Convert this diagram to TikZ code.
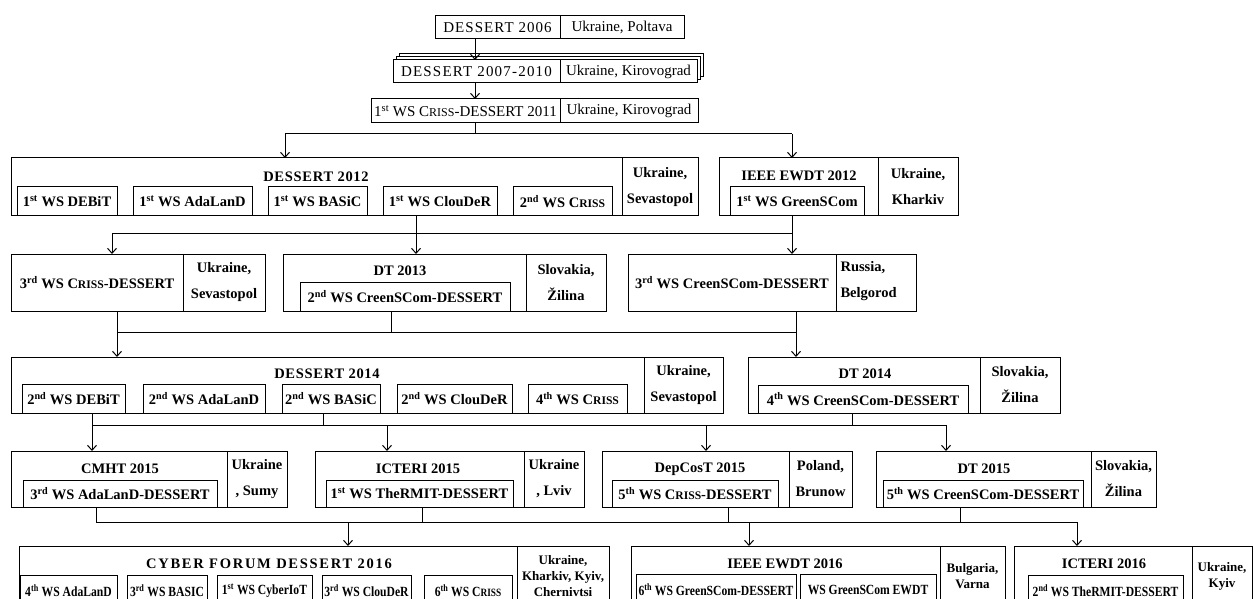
\documentclass[tikz,border=0pt]{standalone}
\usepackage{fontspec}
\setmainfont{Liberation Serif}
\newfontfamily\condf[FakeStretch=0.83]{Liberation Serif}
\usetikzlibrary{arrows.meta}
\newcommand\crs{C\scalebox{0.8}{RISS}}
\newcommand\lsp[2]{{\addfontfeatures{LetterSpace=#1}#2}}
\newcommand\sps[1]{\textsuperscript{#1}}
\newcommand{\rbox}[7][]{\node[box,minimum width={(#5-#3)*1pt},minimum height={(#6-#4)*1pt},#1] (#2) at (#3,#4) {#7};}
\tikzset{
  box/.style={draw, line width=1pt, inner sep=0pt, outer sep=0pt, anchor=north west, fill=white, font=\fontsize{15}{18}\selectfont},
  bfb/.style={font=\fontsize{14.5}{17}\selectfont\bfseries},
  loc/.style={font=\fontsize{14.5}{26}\selectfont\bfseries, align=center},
  locs/.style={font=\fontsize{13}{16}\selectfont\bfseries, align=center},
  cnd/.style={font=\condf\fontsize{14}{17}\selectfont\bfseries},
  conn/.style={line width=1pt},
  arr/.style={line width=1pt, -{Straight Barb[length=5pt,width=9pt]}},
}
\begin{document}
\begin{tikzpicture}[x=1pt,y=-1pt]
\clip (0,0) rectangle (1254,599);
\fill[white] (0,0) rectangle (1254,599);
% ---- row 0
\rbox{a06}{435}{16}{560}{39}{\lsp{7}{DESSERT 2006}}
\rbox{a06l}{560}{16}{684}{39}{Ukraine, Poltava}
\rbox{s2}{399}{54}{703}{77}{}
\rbox{s1}{396}{57}{700}{80}{}
\rbox{a07}{393}{60}{560}{83}{\lsp{8}{DESSERT 2007-2010}}
\rbox{a07l}{560}{60}{697}{83}{Ukraine, Kirovograd}
\rbox{a11}{371}{99}{560}{123}{1\sps{st} WS \crs-DESSERT 2011}
\rbox{a11l}{560}{99}{698}{123}{Ukraine, Kirovograd}
% ---- row 2
\rbox{d12}{11}{158}{622}{216}{}
\rbox[loc]{d12l}{622}{158}{698}{216}{Ukraine,\\Sevastopol}
\node[bfb] (d12t) at (316,177) {\lsp{5}{DESSERT 2012}};
\rbox[bfb]{d12a}{17}{187}{117}{216}{1\sps{st} WS DEBiT}
\rbox[bfb]{d12b}{133}{187}{252}{216}{1\sps{st} WS AdaLanD}
\rbox[bfb]{d12c}{268}{187}{367}{216}{1\sps{st} WS BASiC}
\rbox[bfb]{d12d}{383}{187}{497}{216}{1\sps{st} WS ClouDeR}
\rbox[bfb]{d12e}{513}{187}{612}{216}{2\sps{nd} WS \crs}
\rbox{e12}{719}{158}{878}{216}{}
\rbox[loc]{e12l}{878}{158}{958}{216}{Ukraine,\\Kharkiv}
\node[bfb] (e12t) at (799,176) {IEEE EWDT 2012};
\rbox[bfb]{e12a}{730}{187}{864}{216}{1\sps{st} WS GreenSCom}
% ---- row 3
\rbox[bfb]{c3}{11}{254}{183}{311}{3\sps{rd} WS \crs-DESSERT}
\rbox[loc]{c3l}{183}{254}{265}{311}{Ukraine,\\Sevastopol}
\rbox{dt13}{283}{254}{526}{311}{}
\rbox[loc]{dt13l}{526}{254}{606}{311}{Slovakia,\\Žilina}
\node[bfb] (dt13t) at (400,271) {DT 2013};
\rbox[bfb]{dt13a}{300}{282}{510}{311}{2\sps{nd} WS CreenSCom-DESSERT}
\rbox[bfb]{c3g}{628}{254}{836}{311}{3\sps{rd} WS CreenSCom-DESSERT}
\rbox{c3gl}{836}{254}{916}{311}{}
\node[loc, align=left, anchor=west] (c3gt) at (837,281) {Russia,\\Belgorod};
% ---- row 4
\rbox{d14}{11}{357}{644}{413}{}
\rbox[loc]{d14l}{644}{357}{723}{413}{Ukraine,\\Sevastopol}
\node[bfb] (d14t) at (327,374) {\lsp{5}{DESSERT 2014}};
\rbox[bfb]{d14a}{22}{384}{125}{413}{2\sps{nd} WS DEBiT}
\rbox[bfb]{d14b}{143}{384}{265}{413}{2\sps{nd} WS AdaLanD}
\rbox[bfb]{d14c}{282}{384}{380}{413}{2\sps{nd} WS BASiC}
\rbox[bfb]{d14d}{397}{384}{512}{413}{2\sps{nd} WS ClouDeR}
\rbox[bfb]{d14e}{528}{384}{627}{413}{4\sps{th} WS \crs}
\rbox{dt14}{748}{357}{980}{413}{}
\rbox[loc]{dt14l}{980}{357}{1060}{413}{Slovakia,\\Žilina}
\node[bfb] (dt14t) at (865,374) {DT 2014};
\rbox[bfb]{dt14a}{758}{385}{968}{413}{4\sps{th} WS CreenSCom-DESSERT}
% ---- row 5
\rbox{cm15}{11}{451}{227}{507}{}
\rbox[loc]{cm15l}{227}{451}{287}{507}{Ukraine\\, Sumy}
\node[bfb] (cm15t) at (120,469) {CMHT 2015};
\rbox[bfb]{cm15a}{23}{480}{217}{507}{3\sps{rd} WS AdaLanD-DESSERT}
\rbox{ic15}{315}{451}{524}{507}{}
\rbox[loc]{ic15l}{524}{451}{584}{507}{Ukraine\\, Lviv}
\node[bfb] (ic15t) at (418,469) {ICTERI 2015};
\rbox[bfb]{ic15a}{326}{480}{513}{507}{1\sps{st} WS TheRMIT-DESSERT}
\rbox{dc15}{602}{451}{789}{507}{}
\rbox[loc]{dc15l}{789}{451}{852}{507}{Poland,\\Brunow}
\node[bfb] (dc15t) at (700,469) {DepCosT 2015};
\rbox[bfb]{dc15a}{612}{480}{778}{507}{5\sps{th} WS \crs-DESSERT}
\rbox{dt15}{876}{451}{1091}{507}{}
\rbox[loc]{dt15l}{1091}{451}{1156}{507}{Slovakia,\\Žilina}
\node[bfb] (dt15t) at (984,469) {DT 2015};
\rbox[bfb]{dt15a}{883}{480}{1083}{507}{5\sps{th} WS CreenSCom-DESSERT}
% ---- row 6
\rbox{cf16}{19}{546}{517}{606}{}
\rbox[locs]{cf16l}{517}{546}{609}{606}{Ukraine,\\Kharkiv, Kyiv,\\Chernivtsi}
\node[bfb] (cf16t) at (269,564) {\lsp{12}{CYBER FORUM DESSERT 2016}};
\rbox[cnd]{cf16a}{20}{575}{117}{606}{4\sps{th} WS AdaLanD}
\rbox[cnd]{cf16b}{127}{575}{207}{606}{3\sps{rd} WS BASIC}
\rbox[cnd]{cf16c}{217}{575}{312}{606}{1\sps{st} WS CyberIoT}
\rbox[cnd]{cf16d}{322}{575}{411}{606}{3\sps{rd} WS ClouDeR}
\rbox[cnd]{cf16e}{424}{575}{512}{606}{6\sps{th} WS \crs}
\rbox{ew16}{631}{546}{940}{606}{}
\rbox[locs]{ew16l}{940}{546}{1005}{606}{Bulgaria,\\Varna}
\node[bfb] (ew16t) at (785,564) {IEEE EWDT 2016};
\rbox[cnd]{ew16a}{636}{574}{796}{606}{6\sps{th} WS GreenSCom-DESSERT}
\rbox[cnd]{ew16b}{800}{574}{936}{606}{WS GreenSCom EWDT}
\rbox{ic16}{1014}{546}{1192}{606}{}
\rbox[locs]{ic16l}{1192}{546}{1252}{606}{Ukraine,\\Kyiv}
\node[bfb] (ic16t) at (1104,564) {ICTERI 2016};
\rbox[cnd]{ic16a}{1028}{575}{1183}{606}{2\sps{nd} WS TheRMIT-DESSERT}
% ---- connectors
\coordinate (t0) at (475,39);
\draw[arr] (a06.south -| t0) -- (a07.north -| t0);
\draw[arr] (a07.south -| t0) -- (a11.north -| t0);
% bus 1
\coordinate (b1m) at (475,134);
\coordinate (b1l) at (285,134);
\coordinate (b1r) at (792,134);
\draw[conn] (a11.south -| b1m) -- (b1m);
\draw[conn] (b1l) -- (b1r);
\draw[arr] (b1l) -- (d12.north -| b1l);
\draw[arr] (b1r) -- (e12.north -| b1r);
% bus 2
\coordinate (b2a) at (112,233);
\coordinate (b2b) at (416,233);
\coordinate (b2c) at (792,233);
\draw[conn] (d12d.south -| b2b) -- (b2b);
\draw[conn] (e12a.south -| b2c) -- (b2c);
\draw[conn] (b2a) -- (b2c);
\draw[arr] (b2a) -- (c3.north -| b2a);
\draw[arr] (b2b) -- (dt13.north -| b2b);
\draw[arr] (b2c) -- (c3g.north -| b2c);
% bus 3
\coordinate (b3a) at (117,332);
\coordinate (b3b) at (391,332);
\coordinate (b3c) at (796,332);
\draw[conn] (c3.south -| b3a) -- (b3a);
\draw[conn] (dt13a.south -| b3b) -- (b3b);
\draw[conn] (c3g.south -| b3c) -- (b3c);
\draw[conn] (b3a) -- (b3c);
\draw[arr] (b3a) -- (d14.north -| b3a);
\draw[arr] (b3c) -- (dt14.north -| b3c);
% bus 4
\coordinate (b4a) at (92,425);
\coordinate (b4b) at (323,425);
\coordinate (b4c) at (852,425);
\coordinate (b4d) at (387,425);
\coordinate (b4e) at (706,425);
\coordinate (b4f) at (946,425);
\draw[conn] (d14a.south -| b4a) -- (b4a);
\draw[conn] (d14c.south -| b4b) -- (b4b);
\draw[conn] (dt14a.south -| b4c) -- (b4c);
\draw[conn] (b4a) -- (b4f);
\draw[arr] (b4a) -- (cm15.north -| b4a);
\draw[arr] (b4d) -- (ic15.north -| b4d);
\draw[arr] (b4e) -- (dc15.north -| b4e);
\draw[arr] (b4f) -- (dt15.north -| b4f);
% bus 5
\coordinate (b5a) at (96,522);
\coordinate (b5b) at (422,522);
\coordinate (b5c) at (728,522);
\coordinate (b5d) at (960,522);
\coordinate (b5e) at (348,522);
\coordinate (b5f) at (749,522);
\coordinate (b5g) at (1077,522);
\draw[conn] (cm15a.south -| b5a) -- (b5a);
\draw[conn] (ic15a.south -| b5b) -- (b5b);
\draw[conn] (dc15a.south -| b5c) -- (b5c);
\draw[conn] (dt15a.south -| b5d) -- (b5d);
\draw[conn] (b5a) -- (b5g);
\draw[arr] (b5e) -- (cf16.north -| b5e);
\draw[arr] (b5f) -- (ew16.north -| b5f);
\draw[arr] (b5g) -- (ic16.north -| b5g);
\end{tikzpicture}
\end{document}
